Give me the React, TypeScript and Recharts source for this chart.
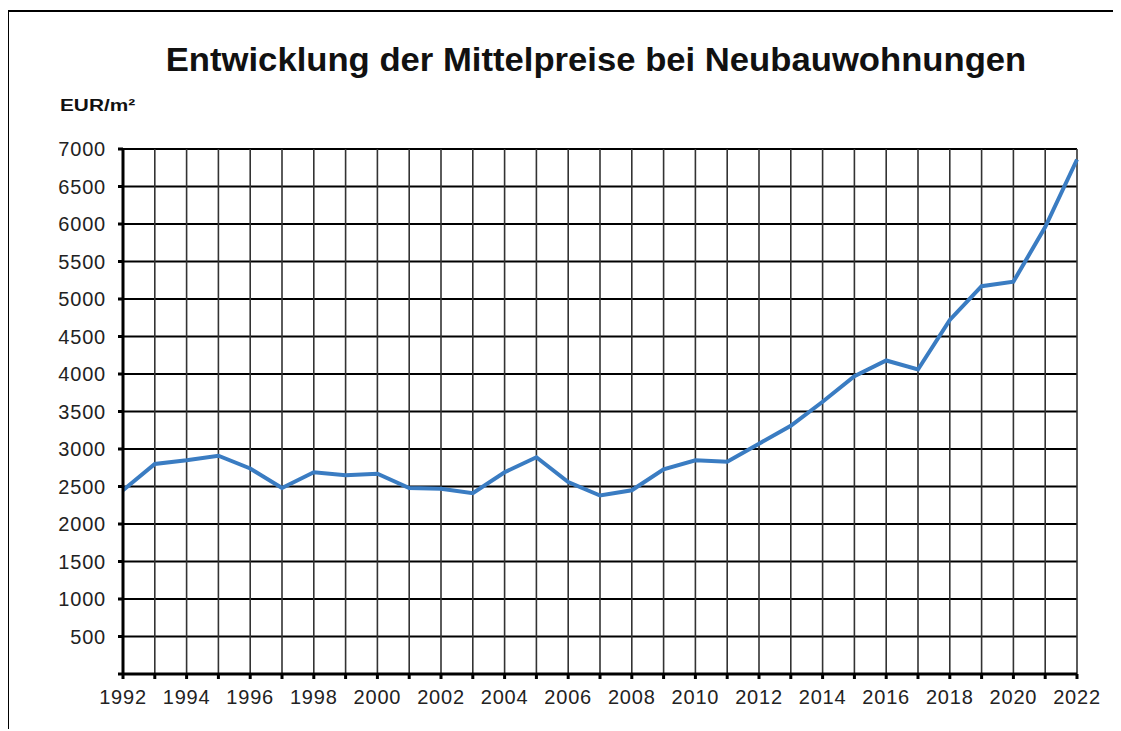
import React from 'react';
import { LineChart, Line, XAxis, YAxis, CartesianGrid } from 'recharts';

const years = [
  1992, 1993, 1994, 1995, 1996, 1997, 1998, 1999, 2000, 2001, 2002,
  2003, 2004, 2005, 2006, 2007, 2008, 2009, 2010, 2011, 2012,
  2013, 2014, 2015, 2016, 2017, 2018, 2019, 2020, 2021, 2022,
];

const prices = [
  2450, 2800, 2850, 2910, 2740, 2480, 2690, 2650, 2670, 2480, 2470,
  2410, 2690, 2890, 2560, 2380, 2450, 2730, 2850, 2830, 3070,
  3310, 3630, 3970, 4180, 4060, 4720, 5170, 5230, 5960, 6860,
];

const xTickLabels = [
  1992, 1994, 1996, 1998, 2000, 2002, 2004, 2006, 2008, 2010,
  2012, 2014, 2016, 2018, 2020, 2022,
];

const yTicks = [0, 500, 1000, 1500, 2000, 2500, 3000, 3500, 4000, 4500, 5000, 5500, 6000, 6500, 7000];

const title = 'Entwicklung der Mittelpreise bei Neubauwohnungen';
const unit = 'EUR/m²';

const data = years.map((year, i) => ({ year, price: prices[i] }));

const FONT = '"Liberation Sans", Arial, sans-serif';
const tickStyle = { fill: '#222', fontSize: 20, fontFamily: FONT, letterSpacing: 0.8 };

export default function App() {
  return (
    <div
      style={{
        position: 'relative',
        left: -1,
        top: 2,
        width: 1113,
        height: 719,
        borderTop: '2px solid #000',
        borderLeft: '2px solid #000',
        fontFamily: FONT,
        background: '#fff',
      }}
    >
      <div
        style={{
          position: 'absolute',
          left: 587,
          top: 31,
          transform: 'translateX(-50%) scaleX(1.05)',
          whiteSpace: 'nowrap',
          fontSize: 33,
          lineHeight: 1,
          fontWeight: 700,
          color: '#111',
        }}
      >
        {title}
      </div>
      <div
        style={{
          position: 'absolute',
          left: 51,
          top: 86,
          transform: 'scaleX(1.3)',
          transformOrigin: 'left top',
          fontSize: 16,
          lineHeight: 1,
          fontWeight: 700,
          color: '#111',
        }}
      >
        {unit}
      </div>
      <div style={{ position: 'absolute', left: 0, top: 0 }}>
        <LineChart
          width={1100}
          height={700}
          data={data}
          margin={{ top: 137, right: 32, left: 54, bottom: 8 }}
        >
          <CartesianGrid vertical={false} stroke="#000" strokeWidth={2} />
          <CartesianGrid horizontal={false} stroke="#333" strokeWidth={1.6} />
          <XAxis
            dataKey="year"
            type="number"
            domain={[1992, 2022]}
            ticks={years}
            interval={0}
            height={30}
            tickSize={5}
            tickMargin={11}
            tickFormatter={(v: number) => (xTickLabels.includes(v) ? String(v) : '')}
            tick={tickStyle}
            axisLine={{ stroke: '#000', strokeWidth: 3 }}
            tickLine={{ stroke: '#000', strokeWidth: 3 }}
          />
          <YAxis
            type="number"
            domain={[0, 7000]}
            ticks={yTicks}
            interval={0}
            width={60}
            tickSize={5}
            tickMargin={12}
            tickFormatter={(v: number) => (v === 0 ? '' : String(v))}
            tick={tickStyle}
            axisLine={{ stroke: '#000', strokeWidth: 3 }}
            tickLine={{ stroke: '#000', strokeWidth: 3 }}
          />
          <Line
            type="linear"
            dataKey="price"
            stroke="#3a7cc2"
            strokeWidth={4}
            dot={false}
            isAnimationActive={false}
          />
        </LineChart>
      </div>
    </div>
  );
}
